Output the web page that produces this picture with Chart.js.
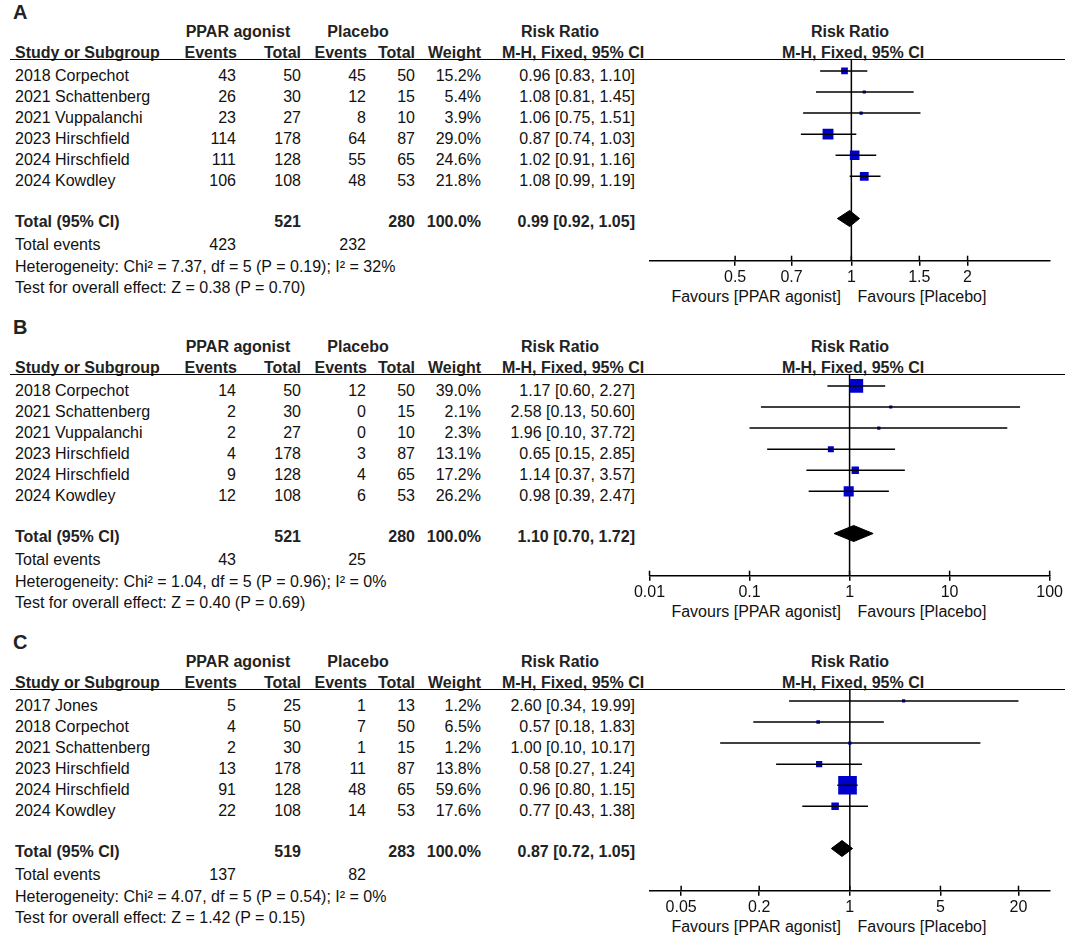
<!DOCTYPE html>
<html><head><meta charset="utf-8">
<script src="https://cdn.jsdelivr.net/npm/chart.js@4.4.1/dist/chart.umd.min.js"></script>
<style>
html,body{margin:0;padding:0;background:#fff;}
#page{position:relative;width:1065px;height:937px;overflow:hidden;font-family:"Liberation Sans",Arial,sans-serif;color:#111;}
.t{position:absolute;white-space:nowrap;font-size:16px;line-height:20px;height:20px;}
.b{font-weight:bold;color:#222;}
.r{text-align:right;}
.c{text-align:center;}
.rule{position:absolute;height:1.5px;background:#000;}
canvas{position:absolute;}
</style></head>
<body><div id="page"></div>
<script>
// ---------- DATA ----------
const panelLetters = ["A", "B", "C"];

const studiesA = ["2018 Corpechot","2021 Schattenberg","2021 Vuppalanchi","2023 Hirschfield","2024 Hirschfield","2024 Kowdley"];
const evTreatA = [43, 26, 23, 114, 111, 106];
const totTreatA = [50, 30, 27, 178, 128, 108];
const evCtrlA = [45, 12, 8, 64, 55, 48];
const totCtrlA = [50, 15, 10, 87, 65, 53];
const weightA = [15.2, 5.4, 3.9, 29.0, 24.6, 21.8];
const rrA = [0.96, 1.08, 1.06, 0.87, 1.02, 1.08];
const loA = [0.83, 0.81, 0.75, 0.74, 0.91, 0.99];
const hiA = [1.10, 1.45, 1.51, 1.03, 1.16, 1.19];
const totalA = [0.99, 0.92, 1.05];
const totalsA = [423, 521, 232, 280, 100.0];   // events T, total T, events C, total C, weight %
const heteroA = "Heterogeneity: Chi\u00B2 = 7.37, df = 5 (P = 0.19); I\u00B2 = 32%";
const testA = "Test for overall effect: Z = 0.38 (P = 0.70)";
const ticksA = [0.5, 0.7, 1, 1.5, 2];
const rangeA = [0.305, 3.27];

const studiesB = ["2018 Corpechot","2021 Schattenberg","2021 Vuppalanchi","2023 Hirschfield","2024 Hirschfield","2024 Kowdley"];
const evTreatB = [14, 2, 2, 4, 9, 12];
const totTreatB = [50, 30, 27, 178, 128, 108];
const evCtrlB = [12, 0, 0, 3, 4, 6];
const totCtrlB = [50, 15, 10, 87, 65, 53];
const weightB = [39.0, 2.1, 2.3, 13.1, 17.2, 26.2];
const rrB = [1.17, 2.58, 1.96, 0.65, 1.14, 0.98];
const loB = [0.60, 0.13, 0.10, 0.15, 0.37, 0.39];
const hiB = [2.27, 50.60, 37.72, 2.85, 3.57, 2.47];
const totalB = [1.10, 0.70, 1.72];
const totalsB = [43, 521, 25, 280, 100.0];
const heteroB = "Heterogeneity: Chi\u00B2 = 1.04, df = 5 (P = 0.96); I\u00B2 = 0%";
const testB = "Test for overall effect: Z = 0.40 (P = 0.69)";
const ticksB = [0.01, 0.1, 1, 10, 100];
const rangeB = [0.01, 100];

const studiesC = ["2017 Jones","2018 Corpechot","2021 Schattenberg","2023 Hirschfield","2024 Hirschfield","2024 Kowdley"];
const evTreatC = [5, 4, 2, 13, 91, 22];
const totTreatC = [25, 50, 30, 178, 128, 108];
const evCtrlC = [1, 7, 1, 11, 48, 14];
const totCtrlC = [13, 50, 15, 87, 65, 53];
const weightC = [1.2, 6.5, 1.2, 13.8, 59.6, 17.6];
const rrC = [2.60, 0.57, 1.00, 0.58, 0.96, 0.77];
const loC = [0.34, 0.18, 0.10, 0.27, 0.80, 0.43];
const hiC = [19.99, 1.83, 10.17, 1.24, 1.15, 1.38];
const totalC = [0.87, 0.72, 1.05];
const totalsC = [137, 519, 82, 283, 100.0];
const heteroC = "Heterogeneity: Chi\u00B2 = 4.07, df = 5 (P = 0.54); I\u00B2 = 0%";
const testC = "Test for overall effect: Z = 1.42 (P = 0.15)";
const ticksC = [0.05, 0.2, 1, 5, 20];
const rangeC = [0.0285, 35];

// ---------- BUILD ----------
const panels = [
  {studies:studiesA, evT:evTreatA, totT:totTreatA, evC:evCtrlA, totC:totCtrlA, w:weightA, rr:rrA, lo:loA, hi:hiA, total:totalA, totals:totalsA, hetero:heteroA, test:testA, ticks:ticksA, range:rangeA},
  {studies:studiesB, evT:evTreatB, totT:totTreatB, evC:evCtrlB, totC:totCtrlB, w:weightB, rr:rrB, lo:loB, hi:hiB, total:totalB, totals:totalsB, hetero:heteroB, test:testB, ticks:ticksB, range:rangeB},
  {studies:studiesC, evT:evTreatC, totT:totTreatC, evC:evCtrlC, totC:totCtrlC, w:weightC, rr:rrC, lo:loC, hi:hiC, total:totalC, totals:totalsC, hetero:heteroC, test:testC, ticks:ticksC, range:rangeC}
];

const FONT = '"Liberation Sans", Arial, sans-serif';
const page = document.getElementById('page');
const PITCH = 315, ROW0 = 76, ROWH = 21.07;

function txt(s, x, yc, align, bold, size) {
  const d = document.createElement('div');
  d.className = 't' + (bold ? ' b' : '') + (align === 'r' ? ' r' : align === 'c' ? ' c' : '');
  d.textContent = s;
  if (size) d.style.fontSize = size + 'px';
  if (align === 'r') { d.style.left = (x - 400) + 'px'; d.style.width = '400px'; }
  else if (align === 'c') { d.style.left = (x - 200) + 'px'; d.style.width = '400px'; }
  else d.style.left = x + 'px';
  d.style.top = (yc - 10) + 'px';
  page.appendChild(d);
}
const f2 = v => v.toFixed(2);
const ci = (a, l, h) => f2(a) + ' [' + f2(l) + ', ' + f2(h) + ']';
const side = w => Math.max(3.2, 0.87 * Math.pow(w, 0.75));

const COL = {name:15, evT:236, totT:301, evC:366, totC:415, w:481, ci:635};

const refLine = {
  id: 'refLine',
  beforeDatasetsDraw(chart) {
    const s = chart.scales.x, a = chart.chartArea, ctx = chart.ctx;
    const x = s.getPixelForValue(1);
    ctx.save(); ctx.strokeStyle = '#000'; ctx.lineWidth = 1.5;
    ctx.beginPath(); ctx.moveTo(x, a.top); ctx.lineTo(x, a.bottom); ctx.stroke();
    ctx.restore();
  },
  afterDraw(chart) {
    const s = chart.scales.x, y = chart.chartArea.bottom, ctx = chart.ctx;
    ctx.save(); ctx.strokeStyle = '#000'; ctx.lineWidth = 1.5;
    s.ticks.forEach(t => {
      const x = s.getPixelForValue(t.value);
      ctx.beginPath(); ctx.moveTo(x, y - 5); ctx.lineTo(x, y); ctx.stroke();
    });
    ctx.restore();
  }
};

panels.forEach((p, k) => {
  const top = k * PITCH;
  txt(panelLetters[k], 13, top + 12, 'l', true, 20);
  // headers
  txt('PPAR agonist', 238, top + 31.7, 'c', true);
  txt('Placebo', 358, top + 31.7, 'c', true);
  txt('Risk Ratio', 560, top + 31.7, 'c', true);
  txt('Risk Ratio', 850, top + 31.7, 'c', true);
  txt('Study or Subgroup', COL.name, top + 52.7, 'l', true);
  txt('Events', 237, top + 52.7, 'r', true);
  txt('Total', 301, top + 52.7, 'r', true);
  txt('Events', 367, top + 52.7, 'r', true);
  txt('Total', 415, top + 52.7, 'r', true);
  txt('Weight', 481, top + 52.7, 'r', true);
  txt('M-H, Fixed, 95% CI', 573, top + 52.7, 'c', true);
  txt('M-H, Fixed, 95% CI', 853, top + 52.7, 'c', true);
  const rule = document.createElement('div');
  rule.className = 'rule';
  rule.style.left = '10px'; rule.style.width = '1055px'; rule.style.top = (top + 58.5) + 'px';
  page.appendChild(rule);
  // rows
  p.studies.forEach((s, i) => {
    const y = top + ROW0 + i * ROWH;
    txt(s, COL.name, y, 'l');
    txt(String(p.evT[i]), COL.evT, y, 'r');
    txt(String(p.totT[i]), COL.totT, y, 'r');
    txt(String(p.evC[i]), COL.evC, y, 'r');
    txt(String(p.totC[i]), COL.totC, y, 'r');
    txt(p.w[i].toFixed(1) + '%', COL.w, y, 'r');
    txt(ci(p.rr[i], p.lo[i], p.hi[i]), COL.ci, y, 'r');
  });
  const yt = top + 222.3;
  txt('Total (95% CI)', COL.name, yt, 'l', true);
  txt(String(p.totals[1]), COL.totT, yt, 'r', true);
  txt(String(p.totals[3]), COL.totC, yt, 'r', true);
  txt(p.totals[4].toFixed(1) + '%', COL.w, yt, 'r', true);
  txt(ci(p.total[0], p.total[1], p.total[2]), COL.ci, yt, 'r', true);
  txt('Total events', COL.name, top + 245, 'l');
  txt(String(p.totals[0]), COL.evT, top + 245, 'r');
  txt(String(p.totals[2]), COL.evC, top + 245, 'r');
  txt(p.hetero, COL.name, top + 266.7, 'l');
  txt(p.test, COL.name, top + 288.3, 'l');
  txt('Favours [PPAR agonist]', 841, top + 297, 'r');
  txt('Favours [Placebo]', 857.5, top + 297, 'l');

  // chart
  const cv = document.createElement('canvas');
  cv.width = 465; cv.height = 315;
  cv.style.left = '600px'; cv.style.top = top + 'px';
  cv.style.width = '465px'; cv.style.height = '315px';
  page.appendChild(cv);

  const nRow = p.studies.length + 1;
  const datasets = [];
  p.rr.forEach((v, i) => {
    datasets.push({data: [{x: p.lo[i], y: i}, {x: p.hi[i], y: i}], showLine: true,
      borderColor: '#000', borderWidth: 1.5, pointRadius: 0, fill: false});
  });
  datasets.push({data: p.rr.map((v, i) => ({x: v, y: i})), showLine: false,
    pointStyle: 'rect', pointRadius: ctx => side(p.w[ctx.dataIndex]) / Math.SQRT2,
    backgroundColor: '#0000cc', borderColor: '#0000cc', borderWidth: 0});
  const h = 0.38;
  datasets.push({data: [{x: p.total[1], y: nRow}, {x: p.total[0], y: nRow - h}, {x: p.total[2], y: nRow}, {x: p.total[0], y: nRow + h}, {x: p.total[1], y: nRow}],
    showLine: true, fill: 'shape', backgroundColor: '#000', borderColor: '#000', borderWidth: 1, pointRadius: 0, tension: 0});

  new Chart(cv, {
    type: 'scatter',
    data: {datasets},
    plugins: [refLine],
    options: {
      responsive: false, animation: false, devicePixelRatio: 1,
      layout: {padding: {left: 49.5, right: 15, top: 59.3, bottom: 14.3}},
      plugins: {legend: {display: false}, tooltip: {enabled: false}},
      scales: {
        x: {type: 'logarithmic', min: p.range[0], max: p.range[1], position: 'bottom',
          afterBuildTicks: s => { s.ticks = p.ticks.map(v => ({value: v})); },
          afterFit: s => { s.height = 40; },
          ticks: {callback: v => String(v), font: {size: 16, family: FONT}, color: '#111', padding: 2, maxRotation: 0, autoSkip: false},
          grid: {display: true, drawOnChartArea: false, drawTicks: true, tickLength: 5, color: '#000', lineWidth: 1.5},
          border: {display: true, color: '#000', width: 1.5}},
        y: {type: 'linear', display: false, reverse: true, min: -0.55, max: 9}
      }
    }
  });
});
</script>
</body></html>
